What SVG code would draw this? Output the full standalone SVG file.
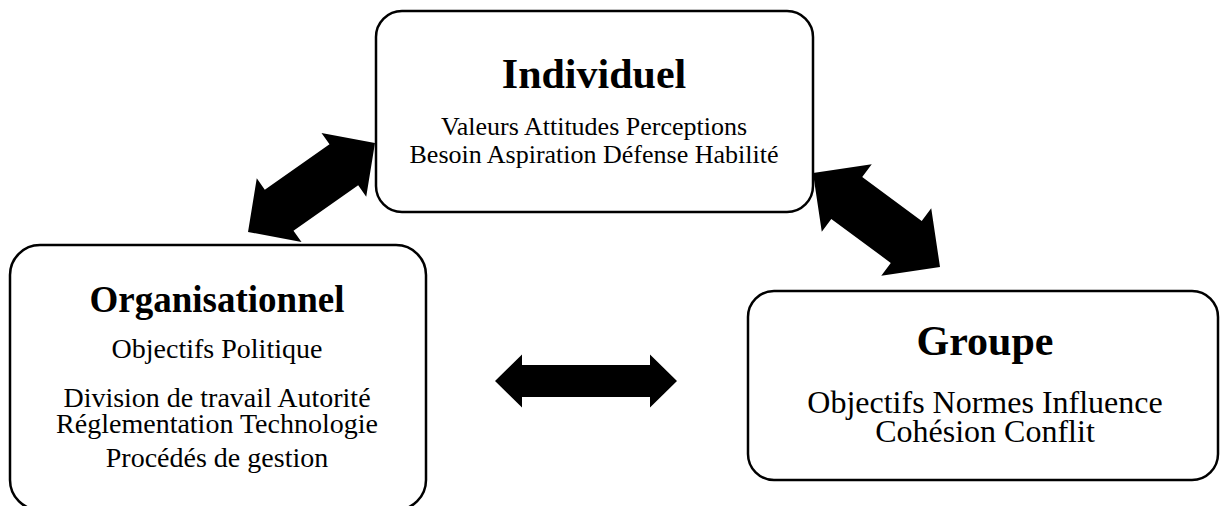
<svg xmlns="http://www.w3.org/2000/svg" width="1222" height="506" viewBox="0 0 1222 506">
  <style>
    .box { fill: #ffffff; stroke: #000000; stroke-width: 2.5; }
    .title { font-family: "Liberation Serif", "Times New Roman", serif; font-weight: bold; text-anchor: middle; fill: #000000; }
    .body { font-family: "Liberation Serif", "Times New Roman", serif; text-anchor: middle; fill: #000000; }
    .arrow { fill: #000000; stroke: none; }
  </style>

  <!-- double-headed block arrows between the three levels -->
  <g id="connectors">
    <polygon class="arrow" transform="translate(311.5 187.5) rotate(-35)"
      points="-77.5,0 -39.5,-39 -39.5,-25 39.5,-25 39.5,-39 77.5,0 39.5,39 39.5,25 -39.5,25 -39.5,39"/>
    <polygon class="arrow" transform="translate(876.5 220) rotate(36.5)"
      points="-79,0 -37,-42 -37,-26 37,-26 37,-42 79,0 37,42 37,26 -37,26 -37,42"/>
    <polygon class="arrow" transform="translate(586 381)"
      points="-91,0 -64,-26.5 -64,-16 64,-16 64,-26.5 91,0 64,26.5 64,16 -64,16 -64,26.5"/>
  </g>

  <g id="individuel">
    <rect class="box" x="376" y="11" width="437" height="201" rx="26" ry="26"/>
    <text class="title" x="594" y="88" font-size="42">Individuel</text>
    <text class="body" x="594" y="135" font-size="26">Valeurs Attitudes Perceptions</text>
    <text class="body" x="594" y="163" font-size="26">Besoin Aspiration Défense Habilité</text>
  </g>

  <g id="organisationnel">
    <rect class="box" x="10" y="245" width="416" height="265" rx="30" ry="30"/>
    <text class="title" x="217" y="312" font-size="37">Organisationnel</text>
    <text class="body" x="217" y="358" font-size="28">Objectifs Politique</text>
    <text class="body" x="217" y="407" font-size="28">Division de travail Autorité</text>
    <text class="body" x="217" y="433" font-size="28">Réglementation Technologie</text>
    <text class="body" x="217" y="467" font-size="28">Procédés de gestion</text>
  </g>

  <g id="groupe">
    <rect class="box" x="748" y="291" width="470" height="189" rx="26" ry="26"/>
    <text class="title" x="985" y="355" font-size="42">Groupe</text>
    <text class="body" x="985" y="413" font-size="32">Objectifs Normes Influence</text>
    <text class="body" x="985" y="442" font-size="32">Cohésion Conflit</text>
  </g>
</svg>
